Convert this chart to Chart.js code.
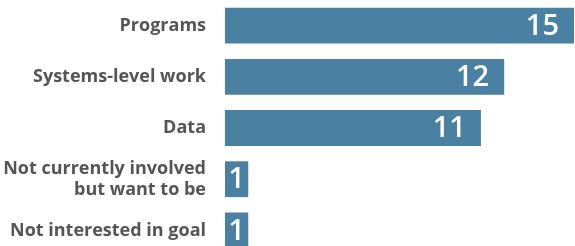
<!DOCTYPE html>
<html>
<head>
<meta charset="utf-8">
<script src="https://cdn.jsdelivr.net/npm/chart.js@4"></script>
<style>
  html, body { margin: 0; padding: 0; background: #fff; overflow: hidden; }
</style>
</head>
<body>
<canvas id="chart" width="575" height="256"></canvas>
<script>
// --- Data
const categories = ['Programs', 'Systems-level work', 'Data', ['Not currently involved', 'but want to be'], 'Not interested in goal'];
const counts = [15, 12, 11, 1, 1];

const barColor = '#4a80a2';
const labelColor = '#555555';

// draw the numbers inside the bars
const valueLabels = {
  id: 'valueLabels',
  afterDatasetsDraw(chart) {
    const ctx = chart.ctx;
    const meta = chart.getDatasetMeta(0);
    ctx.save();
    ctx.fillStyle = '#ffffff';
    ctx.font = '600 29px "Open Sans"';
    ctx.textBaseline = 'middle';
    meta.data.forEach((bar, i) => {
      const txt = String(counts[i]);
      const w = bar.x - bar.base;
      if (w < 40) {
        ctx.textAlign = 'center';
        ctx.fillText(txt, bar.base + w / 2, bar.y + 1);
      } else {
        ctx.textAlign = 'right';
        ctx.fillText(txt, bar.x - 15, bar.y + 1);
      }
    });
    ctx.restore();
  }
};

new Chart(document.getElementById('chart'), {
  type: 'bar',
  data: {
    labels: categories,
    datasets: [{
      data: counts,
      backgroundColor: barColor,
      barPercentage: 0.7,
      categoryPercentage: 1
    }]
  },
  options: {
    indexAxis: 'y',
    responsive: false,
    animation: false,
    layout: { padding: { left: 0, right: 1, top: 0, bottom: 0 } },
    plugins: { legend: { display: false }, tooltip: { enabled: false } },
    scales: {
      x: { display: false, min: 0, max: 15 },
      y: {
        grid: { display: false, drawTicks: false },
        border: { display: false },
        ticks: {
          color: labelColor,
          padding: 19,
          font: { family: 'Open Sans', size: 18, weight: 'bold', lineHeight: 1.17 }
        },
        afterFit(scale) {
          scale.width = 225;
          scale.paddingTop = 0;
          scale.paddingBottom = 0;
        }
      }
    }
  },
  plugins: [valueLabels]
});
</script>
</body>
</html>
